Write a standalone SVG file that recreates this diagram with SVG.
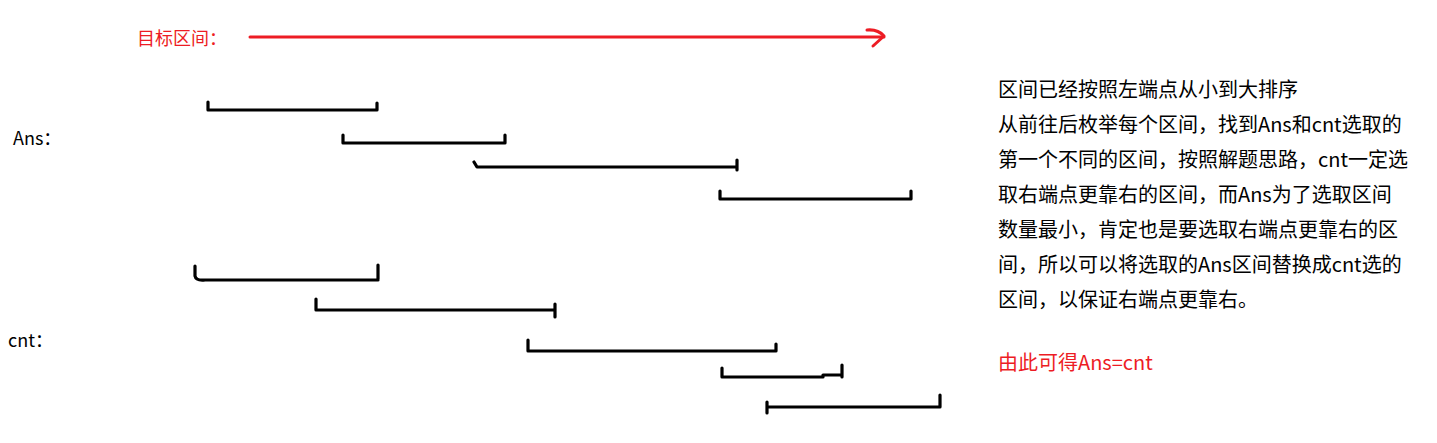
<svg xmlns="http://www.w3.org/2000/svg" width="1437" height="443" viewBox="0 0 1437 443">
<style>
.br{fill:none;stroke:#000;stroke-width:3.2;stroke-linecap:round;stroke-linejoin:round}
.red{fill:none;stroke:#ed1c24;stroke-width:3;stroke-linecap:round;stroke-linejoin:round}
.t{font-family:"Microsoft YaHei","Noto Sans CJK SC",sans-serif;font-size:20px;fill:#000}
.lbl{font-family:"Microsoft YaHei","Noto Sans CJK SC",sans-serif;font-size:18px;fill:#000}
.rt{fill:#ed1c24}
</style>
<rect width="1437" height="443" fill="#fff"/>
<g id="title">
<text class="lbl rt" x="137" y="45">目标区间：</text>
<path class="red" d="M250,37 H884"/>
<path class="red" d="M867,30 Q878,29 884,36 L873,46"/>
</g>
<g id="labels">
<text class="lbl" x="13" y="145">Ans：</text>
<text class="lbl" x="8" y="347">cnt：</text>
</g>
<g id="ans-intervals">
<path class="br" d="M208,102 V110 H377 M377,103 V110"/>
<path class="br" d="M343,135 V143 H505 M505,135 V143"/>
<path class="br" d="M474,162 L477,167 H737 M737,160 V170"/>
<path class="br" d="M720,191 V199 H911 M911,191 V199"/>
</g>
<g id="cnt-intervals">
<path class="br" d="M195,266 V276 Q196,281 205,280 H378 M378,265 V279"/>
<path class="br" d="M316,299 V310 H555 M555,304 V317"/>
<path class="br" d="M528,340 V351 H776 M776,344 V351"/>
<path class="br" d="M722,368 V377 H823 V375 H842 M842,365 V377"/>
<path class="br" d="M767,402 V413 M767,407 H940 M940,395 V407"/>
</g>
<g id="explanation">
<text class="t" x="998" y="97">区间已经按照左端点从小到大排序</text>
<text class="t" x="998" y="132">从前往后枚举每个区间，找到Ans和cnt选取的</text>
<text class="t" x="998" y="167">第一个不同的区间，按照解题思路，cnt一定选</text>
<text class="t" x="998" y="202">取右端点更靠右的区间，而Ans为了选取区间</text>
<text class="t" x="998" y="237">数量最小，肯定也是要选取右端点更靠右的区</text>
<text class="t" x="998" y="272">间，所以可以将选取的Ans区间替换成cnt选的</text>
<text class="t" x="998" y="307">区间，以保证右端点更靠右。</text>
<text class="t rt" x="998" y="370">由此可得Ans=cnt</text>
</g>
</svg>
